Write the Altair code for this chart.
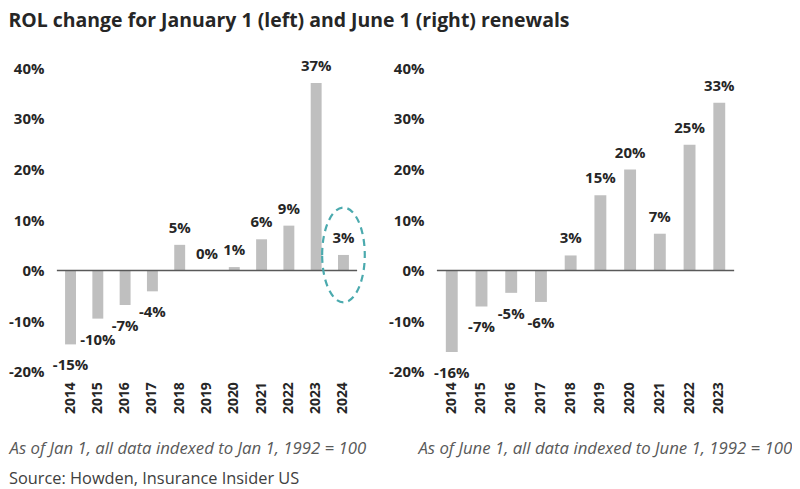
import altair as alt
import pandas as pd

title_text = "ROL change for January 1 (left) and June 1 (right) renewals"

jan_years = ["2014", "2015", "2016", "2017", "2018", "2019", "2020", "2021", "2022", "2023", "2024"]
jan_values = [-14.6, -9.5, -6.8, -4.1, 5.1, 0.0, 0.7, 6.2, 8.9, 37.1, 3.1]
jan_labels = ["-15%", "-10%", "-7%", "-4%", "5%", "0%", "1%", "6%", "9%", "37%", "3%"]
jan_note = "As of Jan 1, all data indexed to Jan 1, 1992 = 100"

jun_years = ["2014", "2015", "2016", "2017", "2018", "2019", "2020", "2021", "2022", "2023"]
jun_values = [-16.1, -7.1, -4.4, -6.2, 3.0, 14.9, 20.0, 7.3, 24.9, 33.2]
jun_labels = ["-16%", "-7%", "-5%", "-6%", "3%", "15%", "20%", "7%", "25%", "33%"]
jun_note = "As of June 1, all data indexed to June 1, 1992 = 100"

source_text = "Source: Howden, Insurance Insider US"
highlight_year = "2024"
y_ticks = [-20, -10, 0, 10, 20, 30, 40]

FONT = "Open Sans"
TEXT = "#262626"
BAR = "#BFBFBF"
TEAL = "#4BAAAE"
PLOT_H = 304
ELLIPSE = "M -0.45 0 A 0.45 1 0 1 1 0.45 0 A 0.45 1 0 1 1 -0.45 0 Z"


def panel(years, values, labels, note, width, note_x, highlight=None, source=None):
    df = pd.DataFrame({"year": years, "value": values, "label": labels})
    base = alt.Chart(df)
    x = alt.X(
        "year:N",
        sort=years,
        scale=alt.Scale(paddingInner=0.6, paddingOuter=0.3),
        axis=alt.Axis(
            title=note,
            labelAngle=270,
            labelFont=FONT,
            labelFontSize=14,
            labelFontWeight="bold",
            labelColor=TEXT,
            labelPadding=10,
            ticks=False,
            domain=False,
            titleFont=FONT,
            titleFontSize=16.8,
            titleFontStyle="italic",
            titleFontWeight="normal",
            titleColor="#595959",
            titleAnchor="start",
            titleAlign="left",
            titleBaseline="middle",
            titleX=note_x,
            titleY=77,
        ),
    )
    y = alt.Y(
        "value:Q",
        scale=alt.Scale(domain=[-20, 40], nice=False, zero=False),
        axis=alt.Axis(
            values=y_ticks,
            labelExpr="datum.value + '%'",
            title=None,
            grid=False,
            ticks=False,
            domain=False,
            labelPadding=13,
            labelFont=FONT,
            labelFontSize=15,
            labelFontWeight="bold",
            labelColor=TEXT,
        ),
    )
    bars = base.mark_bar(color=BAR).encode(x=x, y=y)
    zero = (
        base.transform_filter(alt.datum.year == years[0])
        .mark_rule(color="#595959", strokeWidth=1.5)
        .encode(y=alt.datum(0))
    )
    txt = dict(font=FONT, fontSize=15, fontWeight="bold", color=TEXT, baseline="middle", align="center")
    pos = base.transform_filter("datum.value >= 0").mark_text(dy=-17, **txt).encode(x=x, y=y, text="label:N")
    neg = base.transform_filter("datum.value < 0").mark_text(dy=21, **txt).encode(x=x, y=y, text="label:N")
    layers = [bars, zero, pos, neg]
    if highlight is not None:
        ell = (
            base.transform_filter(alt.datum.year == highlight)
            .mark_point(shape=ELLIPSE, size=9025, filled=False, color=TEAL,
                        strokeWidth=2.2, strokeDash=[7, 5], opacity=1)
            .encode(x=x, y=y)
        )
        layers.append(ell)
    if source is not None:
        src = (
            alt.Chart(pd.DataFrame({"t": [source]}))
            .mark_text(align="left", baseline="middle", font=FONT, fontSize=16.4, color="#404040")
            .encode(text="t:N", x=alt.value(-48), y=alt.value(412))
        )
        layers.append(src)
    return alt.layer(*layers).properties(width=width, height=PLOT_H)


left = panel(jan_years, jan_values, jan_labels, jan_note, 301, -48, highlight=highlight_year, source=source_text)
right = panel(jun_years, jun_values, jun_labels, jun_note, 298, -19)

chart = (
    alt.hconcat(left, right, spacing=80, bounds="flush")
    .properties(
        padding={"top": 2, "left": 0, "right": 0, "bottom": 0},
        title=alt.TitleParams(
            text=title_text, anchor="start", font=FONT, fontSize=19.5,
            fontWeight="bold", color=TEXT, offset=28,
        ),
    )
    .configure_view(stroke=None)
)

chart.save("out.html", embed_options={"renderer": "svg", "actions": False})
